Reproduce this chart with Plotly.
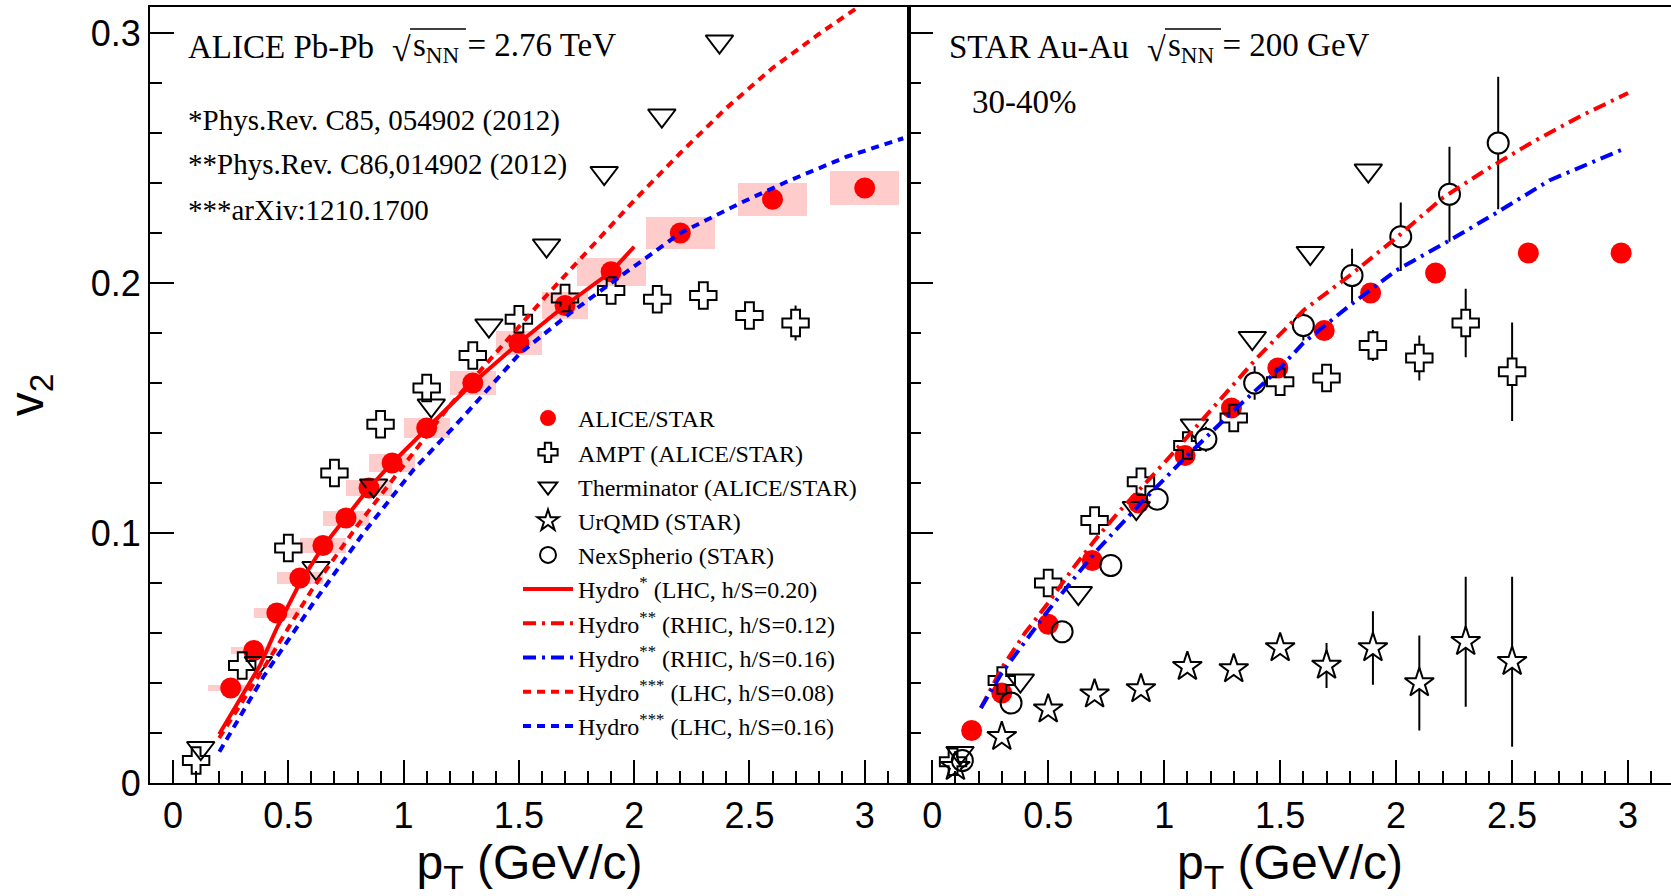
import plotly.graph_objects as go

# ---------------- data ----------------
# Left panel: ALICE Pb-Pb 2.76 TeV
alice_pt = [0.25, 0.35, 0.45, 0.55, 0.65, 0.75, 0.85, 0.95, 1.1, 1.3, 1.5, 1.7, 1.9, 2.2, 2.6, 3.0]
alice_v2 = [0.038, 0.053, 0.068, 0.082, 0.095, 0.106, 0.118, 0.128, 0.142, 0.160, 0.176, 0.191, 0.2045, 0.220, 0.2335, 0.238]
alice_sys_pt = [0.1, 0.1, 0.1, 0.1, 0.1, 0.1, 0.1, 0.1, 0.1, 0.1, 0.1, 0.1, 0.15, 0.15, 0.15, 0.15]
alice_sys_v2 = [0.0013, 0.0015, 0.002, 0.0023, 0.0029, 0.003, 0.0033, 0.0037, 0.004, 0.0047, 0.0049, 0.0053, 0.0057, 0.0063, 0.0067, 0.0067]

ampt_alice_pt = [0.1, 0.3, 0.5, 0.7, 0.9, 1.1, 1.3, 1.5, 1.7, 1.9, 2.1, 2.3, 2.5, 2.7]
ampt_alice_v2 = [0.009, 0.047, 0.094, 0.124, 0.1435, 0.158, 0.171, 0.1855, 0.194, 0.197, 0.1935, 0.195, 0.187, 0.184]
ampt_alice_err = [0.001, 0.001, 0.001, 0.001, 0.001, 0.0015, 0.002, 0.002, 0.0025, 0.003, 0.004, 0.0043, 0.0053, 0.007]

therm_alice_pt = [0.12, 0.37, 0.62, 0.87, 1.12, 1.37, 1.62, 1.87, 2.12, 2.37]
therm_alice_v2 = [0.014, 0.048, 0.086, 0.119, 0.151, 0.183, 0.215, 0.244, 0.267, 0.2966]

hydro_lhc020_pt = [0.2, 0.3, 0.377, 0.45, 0.55, 0.65, 0.75, 0.85, 0.95, 1.1, 1.3, 1.5, 1.7, 1.9, 2.0]
hydro_lhc020_v2 = [0.0195, 0.035, 0.047, 0.062, 0.080, 0.0945, 0.1065, 0.118, 0.128, 0.1415, 0.160, 0.176, 0.191, 0.2045, 0.2145]

hydro_lhc008_pt = [0.2, 0.4, 0.6, 0.8, 1.0, 1.2, 1.4, 1.6, 1.8, 2.0, 2.2, 2.4, 2.6, 2.8, 2.97]
hydro_lhc008_v2 = [0.018, 0.047, 0.077, 0.103, 0.127, 0.151, 0.172, 0.193, 0.213, 0.233, 0.252, 0.270, 0.286, 0.2995, 0.3103]

hydro_lhc016_pt = [0.201, 0.392, 0.608, 0.825, 1.042, 1.259, 1.505, 1.722, 1.938, 2.199, 2.459, 2.661, 2.921, 3.167]
hydro_lhc016_v2 = [0.0125, 0.0425, 0.0719, 0.0999, 0.1252, 0.1465, 0.1719, 0.1879, 0.2025, 0.2199, 0.2319, 0.2405, 0.2505, 0.2579]

# Right panel: STAR Au-Au 200 GeV, 30-40%
star_pt = [0.17, 0.3, 0.5, 0.69, 0.89, 1.09, 1.29, 1.49, 1.69, 1.89, 2.17, 2.57, 2.97]
star_v2 = [0.021, 0.036, 0.0635, 0.089, 0.112, 0.131, 0.150, 0.166, 0.181, 0.196, 0.204, 0.212, 0.212]

ampt_star_pt = [0.09, 0.3, 0.5, 0.7, 0.9, 1.1, 1.3, 1.5, 1.7, 1.9, 2.1, 2.3, 2.5]
ampt_star_v2 = [0.0085, 0.041, 0.080, 0.105, 0.1205, 0.135, 0.146, 0.1605, 0.162, 0.175, 0.170, 0.184, 0.1645]
ampt_star_err = [0.001, 0.001, 0.001, 0.001, 0.001, 0.0015, 0.002, 0.0025, 0.003, 0.0062, 0.009, 0.0137, 0.0197]

therm_star_pt = [0.12, 0.38, 0.63, 0.88, 1.13, 1.38, 1.63, 1.88]
therm_star_v2 = [0.012, 0.041, 0.076, 0.110, 0.143, 0.178, 0.212, 0.245]

urqmd_pt = [0.1, 0.3, 0.5, 0.7, 0.9, 1.1, 1.3, 1.5, 1.7, 1.9, 2.1, 2.3, 2.5]
urqmd_v2 = [0.0065, 0.0185, 0.0295, 0.0355, 0.0376, 0.0465, 0.0456, 0.054, 0.047, 0.054, 0.040, 0.0565, 0.0485]
urqmd_err = [0.001, 0.001, 0.0015, 0.002, 0.0025, 0.003, 0.003, 0.003, 0.009, 0.0147, 0.019, 0.026, 0.034]

nexus_pt = [0.13, 0.34, 0.56, 0.77, 0.97, 1.18, 1.39, 1.6, 1.81, 2.02, 2.23, 2.44]
nexus_v2 = [0.009, 0.032, 0.0605, 0.087, 0.1135, 0.1375, 0.160, 0.183, 0.203, 0.2185, 0.2355, 0.256]
nexus_err = [0.001, 0.0015, 0.002, 0.003, 0.0045, 0.005, 0.0067, 0.006, 0.0107, 0.0137, 0.019, 0.0265]

hydro_rhic012_pt = [0.21, 0.3, 0.4, 0.5, 0.6, 0.7, 0.8, 0.9, 1.0, 1.2, 1.4, 1.6, 1.8, 2.0, 2.2, 2.4, 2.6, 2.8, 3.0]
hydro_rhic012_v2 = [0.030, 0.046, 0.060, 0.072, 0.085, 0.097, 0.108, 0.118, 0.128, 0.149, 0.170, 0.189, 0.203, 0.218, 0.234, 0.246, 0.257, 0.267, 0.276]

hydro_rhic016_pt = [0.21, 0.3, 0.5, 0.7, 0.9, 1.1, 1.3, 1.5, 1.6, 1.8, 2.0, 2.23, 2.44, 2.66, 2.99]
hydro_rhic016_v2 = [0.030, 0.044, 0.069, 0.092, 0.112, 0.131, 0.149, 0.166, 0.176, 0.191, 0.205, 0.217, 0.2285, 0.241, 0.254]

# ---------------- layout helpers ----------------
W, H = 1671, 896
ML, MR, MT, MB = 150, 0, 7, 113
PW, PH = W - ML - MR, H - MT - MB


def px(x):
    return (x - ML) / PW


def py(y):
    return 1 - (y - MT) / PH


SPLIT = px(909)
SERIF = "Liberation Serif"
SANS = "Liberation Sans"
MARKER_HALF = 0.0045   # error bars shorter than a marker radius stay hidden, as in ROOT


def shown_err(errs):
    return [e if e > MARKER_HALF else 0 for e in errs]


def fills(errs):
    return ["white" if e > MARKER_HALF else "rgba(0,0,0,0)" for e in errs]


fig = go.Figure()

# systematic boxes
fig.add_trace(go.Bar(
    x=alice_pt, y=[2 * s for s in alice_sys_v2],
    base=[v - s for v, s in zip(alice_v2, alice_sys_v2)],
    width=[2 * w for w in alice_sys_pt],
    marker=dict(color="#ffcccc", line=dict(width=0)),
    showlegend=False, hoverinfo="skip", xaxis="x", yaxis="y"))

# data points
fig.add_trace(go.Scatter(x=alice_pt, y=alice_v2, mode="markers", name="ALICE/STAR",
                         marker=dict(symbol="circle", size=21, color="red"),
                         xaxis="x", yaxis="y"))
fig.add_trace(go.Scatter(x=star_pt, y=star_v2, mode="markers", name="ALICE/STAR", showlegend=False,
                         marker=dict(symbol="circle", size=21, color="red"),
                         xaxis="x2", yaxis="y2"))

mk_line = dict(color="black", width=2)
eb = dict(type="data", symmetric=True, width=0, thickness=2, color="black")

fig.add_trace(go.Scatter(x=ampt_alice_pt, y=ampt_alice_v2, mode="markers", name="AMPT (ALICE/STAR)",
                         marker=dict(symbol="cross", size=22, color=fills(ampt_alice_err), line=mk_line),
                         error_y=dict(eb, array=shown_err(ampt_alice_err)), xaxis="x", yaxis="y"))
fig.add_trace(go.Scatter(x=ampt_star_pt, y=ampt_star_v2, mode="markers", name="AMPT (ALICE/STAR)", showlegend=False,
                         marker=dict(symbol="cross", size=22, color=fills(ampt_star_err), line=mk_line),
                         error_y=dict(eb, array=shown_err(ampt_star_err)), xaxis="x2", yaxis="y2"))
fig.add_trace(go.Scatter(x=therm_alice_pt, y=therm_alice_v2, mode="markers", name="Therminator (ALICE/STAR)",
                         marker=dict(symbol="triangle-down-open", size=24, color="black", line=mk_line),
                         xaxis="x", yaxis="y"))
fig.add_trace(go.Scatter(x=therm_star_pt, y=therm_star_v2, mode="markers", name="Therminator (ALICE/STAR)", showlegend=False,
                         marker=dict(symbol="triangle-down-open", size=24, color="black", line=mk_line),
                         xaxis="x2", yaxis="y2"))
fig.add_trace(go.Scatter(x=urqmd_pt, y=urqmd_v2, mode="markers", name="UrQMD (STAR)",
                         marker=dict(symbol="star", size=22, color=fills(urqmd_err), line=mk_line),
                         error_y=dict(eb, array=shown_err(urqmd_err)), xaxis="x2", yaxis="y2"))
fig.add_trace(go.Scatter(x=nexus_pt, y=nexus_v2, mode="markers", name="NexSpherio (STAR)",
                         marker=dict(symbol="circle", size=21, color=fills(nexus_err), line=mk_line),
                         error_y=dict(eb, array=shown_err(nexus_err)), xaxis="x2", yaxis="y2"))

# hydro curves
fig.add_trace(go.Scatter(x=hydro_lhc020_pt, y=hydro_lhc020_v2, mode="lines",
                         name="Hydro<sup>*</sup> (LHC, h/S=0.20)",
                         line=dict(color="red", width=4), xaxis="x", yaxis="y"))
fig.add_trace(go.Scatter(x=hydro_rhic012_pt, y=hydro_rhic012_v2, mode="lines",
                         name="Hydro<sup>**</sup> (RHIC, h/S=0.12)",
                         line=dict(color="red", width=4, dash="13px,6px,3px,6px"), xaxis="x2", yaxis="y2"))
fig.add_trace(go.Scatter(x=hydro_rhic016_pt, y=hydro_rhic016_v2, mode="lines",
                         name="Hydro<sup>**</sup> (RHIC, h/S=0.16)",
                         line=dict(color="blue", width=4, dash="13px,6px,3px,6px"), xaxis="x2", yaxis="y2"))
fig.add_trace(go.Scatter(x=hydro_lhc008_pt, y=hydro_lhc008_v2, mode="lines",
                         name="Hydro<sup>***</sup> (LHC, h/S=0.08)",
                         line=dict(color="red", width=4, dash="8px,6px"), xaxis="x", yaxis="y"))
fig.add_trace(go.Scatter(x=hydro_lhc016_pt, y=hydro_lhc016_v2, mode="lines",
                         name="Hydro<sup>***</sup> (LHC, h/S=0.16)",
                         line=dict(color="blue", width=4, dash="8px,6px"), xaxis="x", yaxis="y"))

axis_common = dict(showline=True, linewidth=2, linecolor="black", ticks="inside", tickwidth=2,
                   tickcolor="black", showgrid=False, zeroline=False,
                   tickfont=dict(family=SANS, size=36, color="black"))

xaxis_common = dict(axis_common, dtick=0.5, tick0=0, ticklen=23, mirror=True,
                    minor=dict(ticks="inside", ticklen=12, tickwidth=2, tickcolor="black", dtick=0.1),
                    title=dict(text="p<sub>T</sub> (GeV/c)", font=dict(family=SANS, size=48, color="black"),
                               standoff=8))

fig.update_layout(
    width=W, height=H,
    margin=dict(l=ML, r=MR, t=MT, b=MB, pad=0),
    paper_bgcolor="white", plot_bgcolor="white",
    bargap=0,
    xaxis=dict(xaxis_common, domain=[0, SPLIT], range=[-0.1, 3.192], anchor="y"),
    xaxis2=dict(xaxis_common, domain=[SPLIT, 1], range=[-0.1, 3.185], anchor="y2"),
    yaxis=dict(axis_common, range=[0, 0.3104], dtick=0.1, tick0=0, ticklen=24, mirror=True,
               minor=dict(ticks="inside", ticklen=12, tickwidth=2, tickcolor="black", dtick=0.02),
               ticklabelstandoff=0,
               title=dict(text="v<sub>2</sub>", font=dict(family=SANS, size=48, color="black"), standoff=39),
               anchor="x"),
    yaxis2=dict(axis_common, range=[0, 0.3104], dtick=0.1, tick0=0, ticklen=24, mirror=False,
                showticklabels=False,
                minor=dict(ticks="inside", ticklen=12, tickwidth=2, tickcolor="black", dtick=0.02),
                anchor="x2"),
    legend=dict(x=px(518), y=py(396), xanchor="left", yanchor="top",
                font=dict(family=SERIF, size=24, color="black"),
                bgcolor="rgba(0,0,0,0)", borderwidth=0, itemwidth=50, tracegroupgap=0),
    showlegend=True,
)

ann = []


def text(x, y, s, size, anchor="left"):
    ann.append(dict(x=px(x), y=py(y), xref="paper", yref="paper", text=s, showarrow=False,
                    xanchor=anchor, yanchor="middle", borderpad=0,
                    font=dict(family=SERIF, size=size, color="black")))


text(187, 47, "ALICE Pb-Pb", 33)
text(412, 49, "√", 34, anchor="right")
text(412, 47, "s<sub>NN</sub> = 2.76 TeV", 33)
text(187, 120, "*Phys.Rev. C85, 054902 (2012)", 29)
text(187, 165, "**Phys.Rev. C86,014902 (2012)", 29)
text(187, 210, "***arXiv:1210.1700", 29)
text(948, 47, "STAR Au-Au", 33)
text(1167, 49, "√", 34, anchor="right")
text(1167, 47, "s<sub>NN</sub> = 200 GeV", 33)
text(971, 102, "30-40%", 33)

fig.update_layout(annotations=ann)

shapes = []
for x0, x1 in [(410, 466), (1165, 1221)]:
    shapes.append(dict(type="line", xref="paper", yref="paper", x0=px(x0), x1=px(x1),
                       y0=py(29), y1=py(29), line=dict(color="black", width=1.5)))
fig.update_layout(shapes=shapes)

fig.write_html("out.html")
